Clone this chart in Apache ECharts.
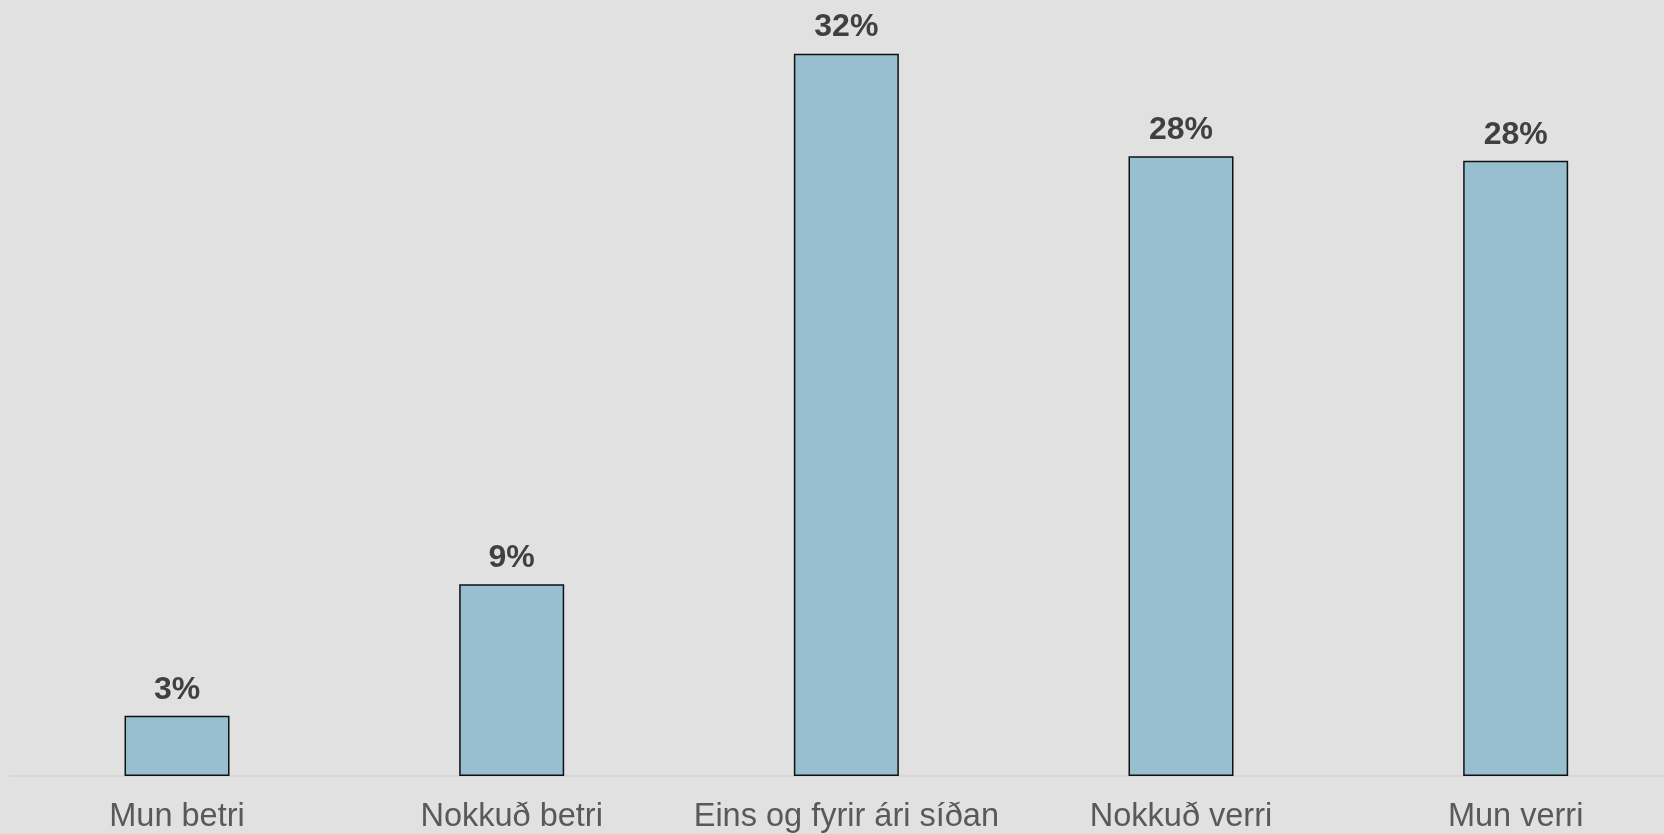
<!DOCTYPE html>
<html>
<head>
<meta charset="utf-8">
<script src="https://cdn.jsdelivr.net/npm/echarts@6/dist/echarts.min.js"></script>
<style>
  html, body { margin: 0; padding: 0; background: #e1e1e1; overflow: hidden; }
  /* the plot runs a little past the right edge of the window, as in the original */
  #chart { width: 1683px; height: 834px; }
</style>
</head>
<body>
<div id="chart"></div>
<script>
// gögn lesin af myndinni (hlutfall svarenda)
const categories = ['Mun betri', 'Nokkuð betri', 'Eins og fyrir ári síðan', 'Nokkuð verri', 'Mun verri']
const values = [2.7, 8.6, 32.4, 27.8, 27.6]

const myChart = echarts.init(document.getElementById('chart'))

const option = {
  backgroundColor: '#e1e1e1',
  textStyle: { fontFamily: 'Liberation Sans, Arial, sans-serif' },
  grid: {
    left: 9.7,
    right: 0,
    top: 18,
    bottom: 58,
    containLabel: false,
  },
  xAxis: {
    type: 'category',
    data: categories,
    axisLine: { lineStyle: { color: '#d2d2d2', width: 1.5 } },
    axisTick: { show: false },
    axisLabel: {
      color: '#595959',
      fontSize: 32.5,
      margin: 25,
      interval: 0,
    },
  },
  yAxis: {
    type: 'value',
    min: 0,
    max: 34,
    show: false,
    splitLine: { show: false },
  },
  series: [
    {
      type: 'bar',
      data: values,
      barWidth: 105,
      itemStyle: {
        color: '#97bfd0',
        borderColor: '#111',
        borderWidth: 1.5,
      },
      label: {
        show: true,
        position: 'top',
        distance: 10,
        color: '#404040',
        fontSize: 32,
        fontWeight: 'bold',
        formatter: (p) => Math.round(p.value) + '%',
      },
    },
  ],
}
myChart.setOption(option)
</script>
</body>
</html>
